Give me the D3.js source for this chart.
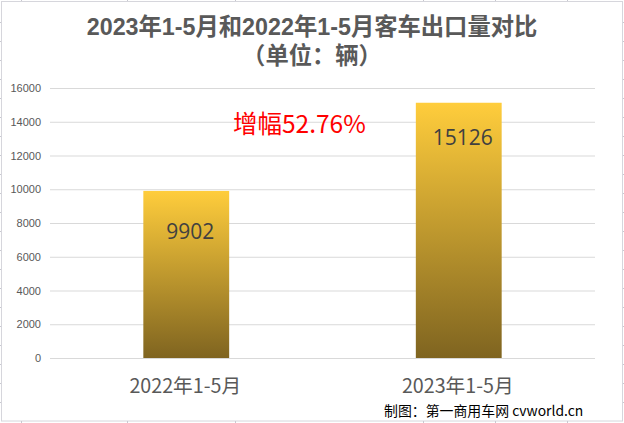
<!DOCTYPE html>
<html>
<head>
<meta charset="utf-8">
<script src="https://cdn.jsdelivr.net/npm/d3@7"></script>
<style>
html, body { margin: 0; padding: 0; background: #fff; }
svg { display: block; }
</style>
</head>
<body>
<div id="wrapper"></div>
<script>
const categories = ["2022年1-5月", "2023年1-5月"];
const values = [9902, 15126];
const yTicks = [0, 2000, 4000, 6000, 8000, 10000, 12000, 14000, 16000];
const titleLines = ["2023年1-5月和2022年1-5月客车出口量对比", "（单位：辆）"];
const noteText = "增幅52.76%";
const creditText = "制图：第一商用车网 cvworld.cn";
// worksheet cell lines that peek out around the pasted chart
const sheetCols = [21, 127, 235, 423, 495, 567];
const sheetRows = [22, 41, 60, 79, 98, 117, 136, 155, 174, 193, 212, 231, 250, 269, 288, 307, 326, 345, 364, 383, 402];

const cjkFont = "'Noto Sans CJK SC', 'Liberation Sans', sans-serif";
// latin first so the line box stays short enough for the tight title leading
const titleFont = "'Liberation Sans', 'Noto Sans CJK SC', sans-serif";

const dimension = {
    width: 624,
    height: 423,
    margin: { top: 88, left: 50, bottom: 65, right: 29 }
};
dimension.boundedWidth = dimension.width - dimension.margin.left - dimension.margin.right;
dimension.boundedHeight = dimension.height - dimension.margin.top - dimension.margin.bottom;

const svg = d3.select("#wrapper").append("svg")
    .attr("width", dimension.width)
    .attr("height", dimension.height);

const grad = svg.append("defs").append("linearGradient")
    .attr("id", "barFill")
    .attr("x1", 0).attr("y1", 0).attr("x2", 0).attr("y2", 1);
grad.append("stop").attr("offset", "0%").attr("stop-color", "#ffcd3c");
grad.append("stop").attr("offset", "100%").attr("stop-color", "#7f6420");

// sheet frame
svg.append("rect")
    .attr("x", 1.5).attr("y", 1.5)
    .attr("width", 621).attr("height", 419.5)
    .attr("fill", "#fff")
    .attr("stroke", "#d6d6dc");

const sheetTicks = svg.append("g").attr("stroke", "#c8c8d0");
sheetTicks.selectAll(".col-top").data(sheetCols).join("line")
    .attr("x1", d => d + 0.5).attr("x2", d => d + 0.5)
    .attr("y1", 0).attr("y2", 1);
sheetTicks.selectAll(".col-bottom").data(sheetCols).join("line")
    .attr("x1", d => d + 0.5).attr("x2", d => d + 0.5)
    .attr("y1", 421).attr("y2", 423);
sheetTicks.selectAll(".row-left").data(sheetRows).join("line")
    .attr("x1", 0).attr("x2", 1)
    .attr("y1", d => d + 0.5).attr("y2", d => d + 0.5);
sheetTicks.selectAll(".row-right").data(sheetRows).join("line")
    .attr("x1", 623).attr("x2", 624)
    .attr("y1", d => d + 0.5).attr("y2", d => d + 0.5);

const bounded = svg.append("g")
    .attr("transform", `translate(${dimension.margin.left}, ${dimension.margin.top})`);

const xScale = d3.scaleBand()
    .domain(categories)
    .range([0, dimension.boundedWidth])
    .paddingInner(0.685)
    .paddingOuter(0.3425);

const yScale = d3.scaleLinear()
    .domain([0, 16000])
    .range([dimension.boundedHeight, 0]);

const yAxis = d3.axisLeft(yScale)
    .tickValues(yTicks)
    .tickFormat(d3.format("d"))
    .tickSize(-dimension.boundedWidth)
    .tickPadding(9);
const yAxisG = bounded.append("g").call(yAxis);
yAxisG.select(".domain").remove();
yAxisG.selectAll("line").attr("stroke", "#d9d9d9");
yAxisG.selectAll("text")
    .attr("fill", "#595959")
    .style("font", "11px 'Liberation Sans', sans-serif");

const xAxis = d3.axisBottom(xScale).tickSize(0).tickPadding(20);
const xAxisG = bounded.append("g")
    .attr("transform", `translate(0, ${dimension.boundedHeight})`)
    .call(xAxis);
xAxisG.select(".domain").remove();
xAxisG.selectAll("text")
    .attr("fill", "#595959")
    .attr("dx", -1)
    .attr("dy", "0.76em")
    .style("font", `19.7px ${cjkFont}`);

bounded.selectAll(".bar")
    .data(values)
    .join("rect")
    .attr("class", "bar")
    .attr("x", (d, i) => xScale(categories[i]))
    .attr("y", d => yScale(d))
    .attr("width", xScale.bandwidth())
    .attr("height", d => dimension.boundedHeight - yScale(d))
    .attr("fill", "url(#barFill)");

// the two data labels were dragged by hand in the original
bounded.selectAll(".value")
    .data(values)
    .join("text")
    .attr("class", "value")
    .attr("x", (d, i) => xScale(categories[i]) + xScale.bandwidth() / 2 + 4)
    .attr("y", (d, i) => yScale(d) + (i === 0 ? 48 : 42))
    .attr("text-anchor", "middle")
    .attr("fill", "#404040")
    .style("font", "21px 'Open Sans', sans-serif")
    .text(d => d);

const title = svg.append("text")
    .attr("text-anchor", "middle")
    .attr("fill", "#595959")
    .style("font", `bold 23.3px ${titleFont}`);
title.selectAll("tspan")
    .data(titleLines)
    .join("tspan")
    .attr("x", 312)
    .attr("y", (d, i) => 35 + i * 29)
    .text(d => d);

svg.append("text")
    .attr("x", 233)
    .attr("y", 133)
    .attr("fill", "#ff0000")
    .style("font", `24.5px ${cjkFont}`)
    .text(noteText);

svg.append("text")
    .attr("x", 384)
    .attr("y", 416)
    .attr("fill", "#000")
    .style("font", `13.9px ${cjkFont}`)
    .text(creditText);
</script>
</body>
</html>
